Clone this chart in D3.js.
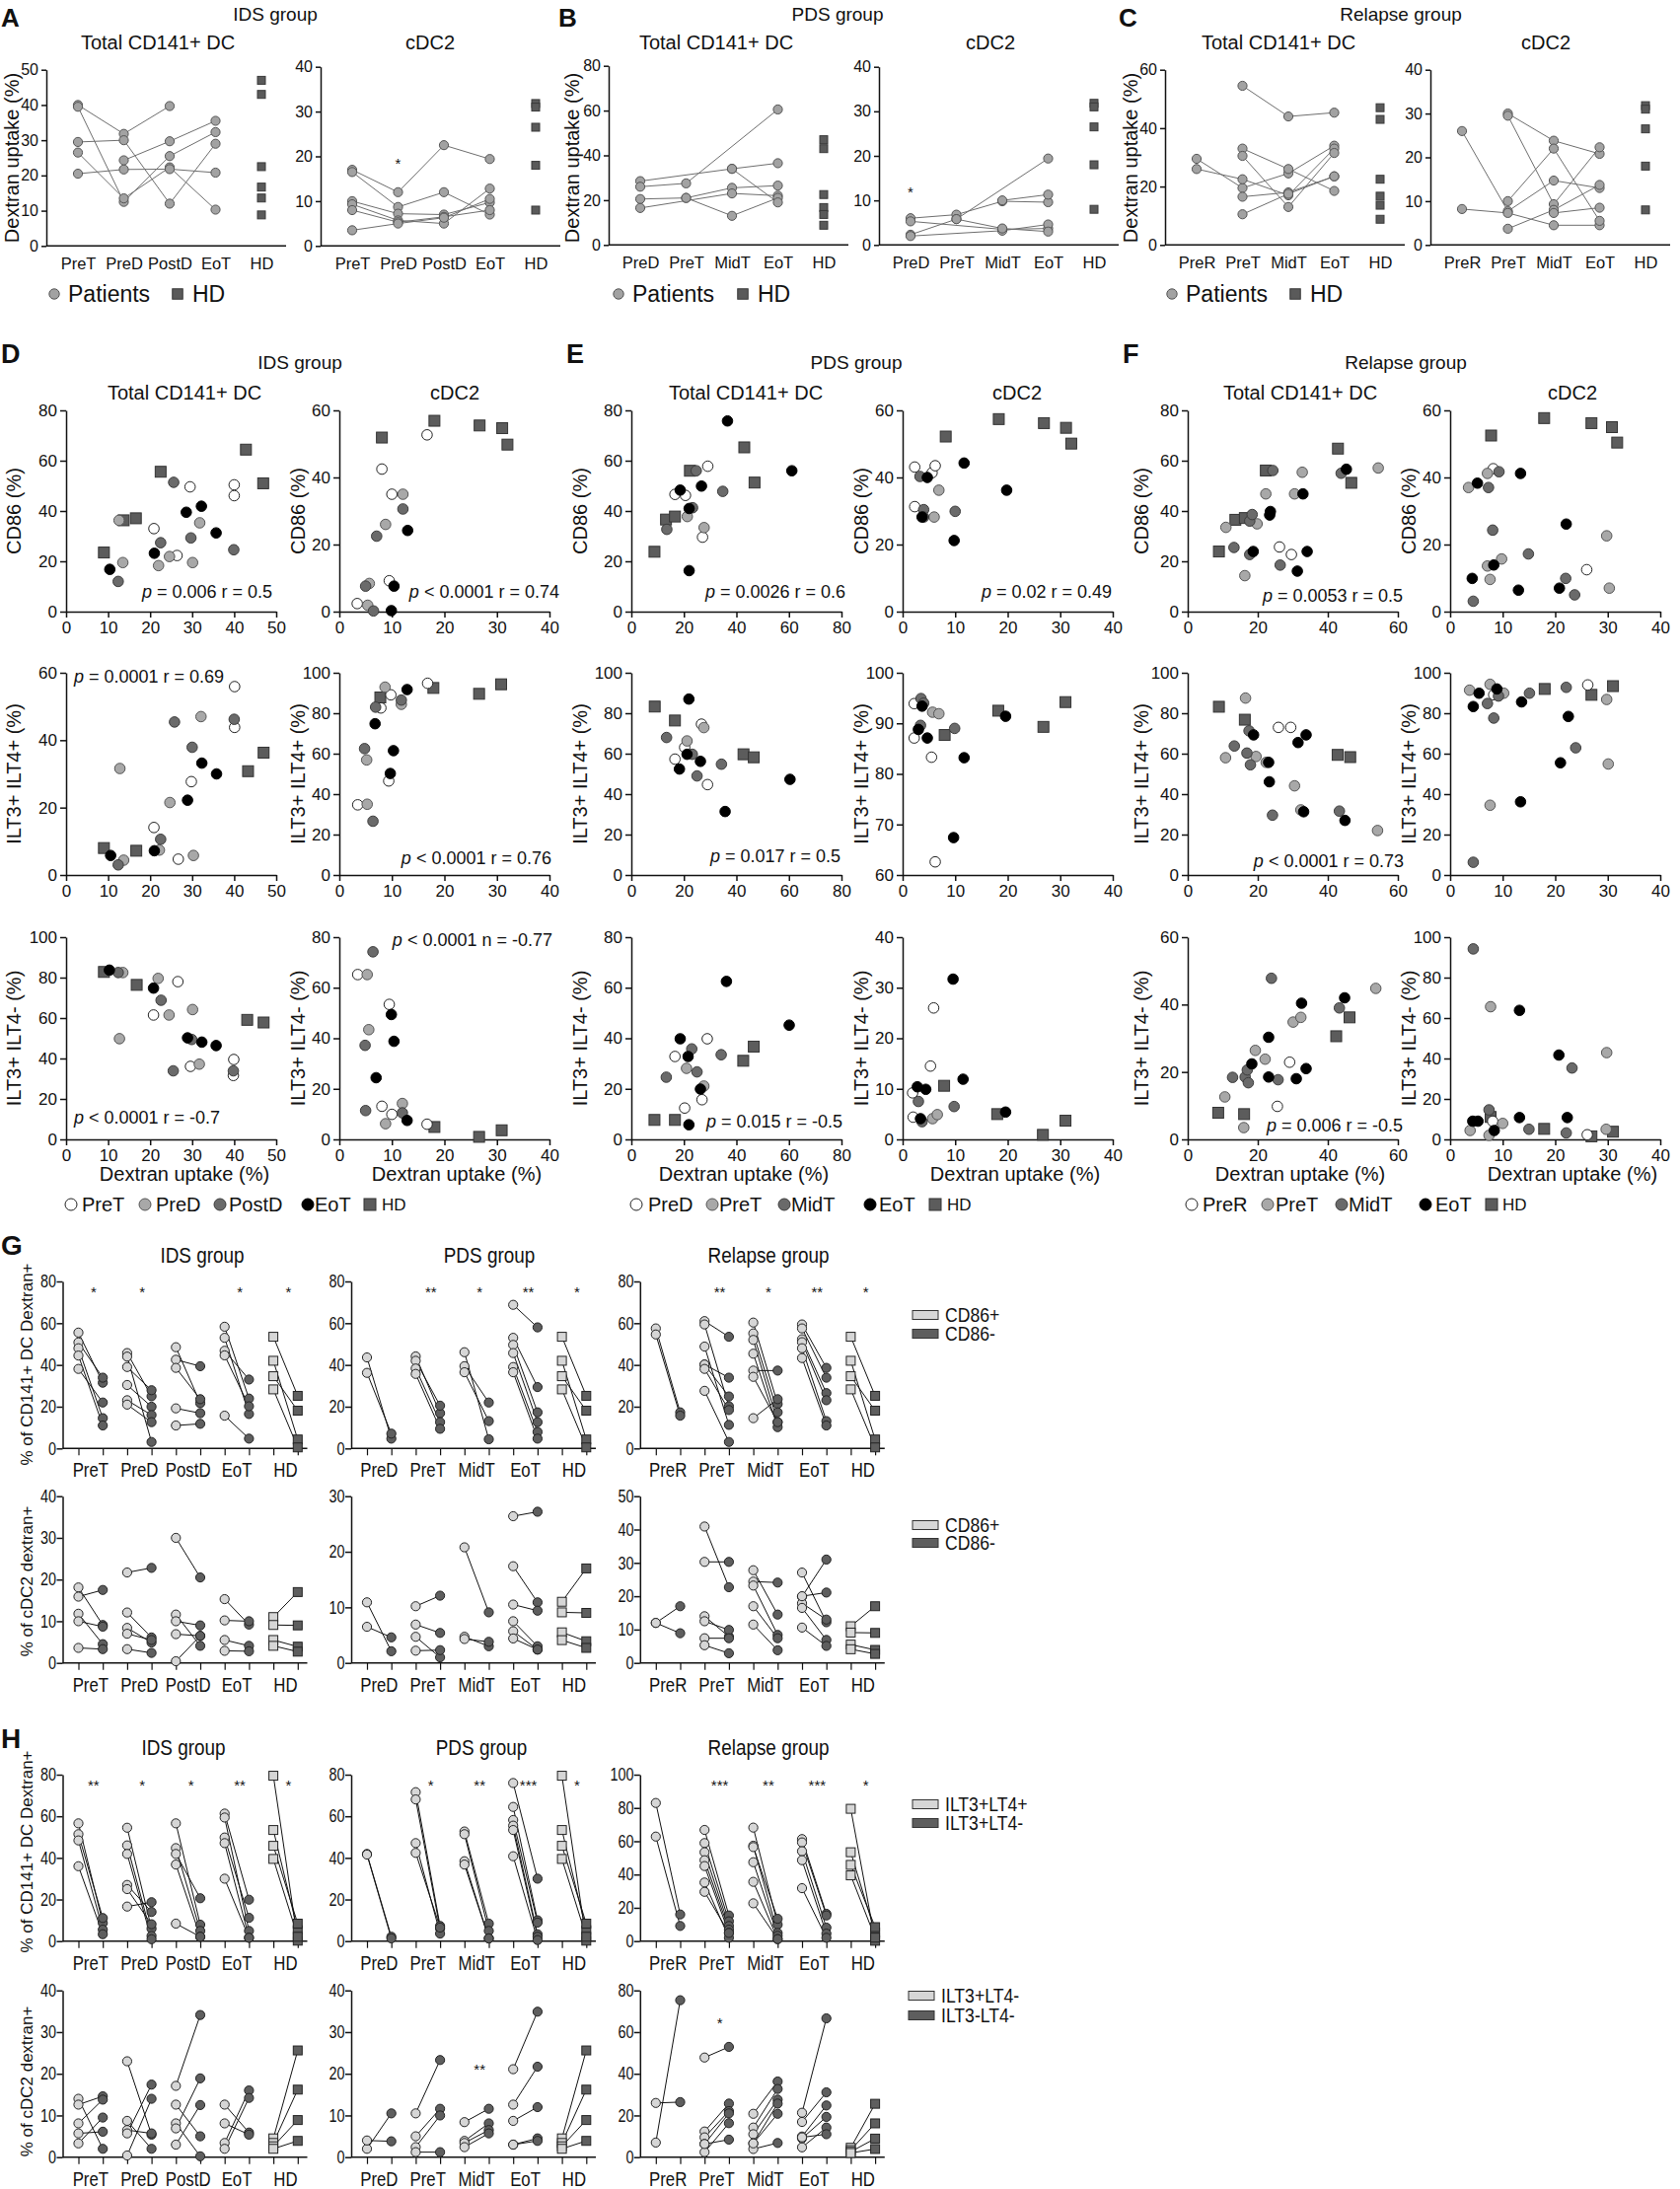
<!DOCTYPE html>
<html>
<head>
<meta charset="utf-8">
<script src="https://cdn.jsdelivr.net/npm/d3@7"></script>
<style>
  body { margin: 0; background: #fff; }
</style>
</head>
<body>
<script>
// ---------- A-C: dextran uptake over time (patients lines + HD) ----------
const catsIDS = ["PreT", "PreD", "PostD", "EoT"];
const catsPDS = ["PreD", "PreT", "MidT", "EoT"];
const catsRel = ["PreR", "PreT", "MidT", "EoT"];

const hdDexTotal = [47, 43, 22.5, 16.7, 13.6, 8.8];
const hdDexCdc2 = [31.8, 31, 26.5, 18, 8];

const aTotal = [[40, 31.8, 39.7, null], [39.5, 12.5, 25.5, 32.3], [29.5, 30, 12, 29], [26.5, 13.5, 22.3, 10.3], [20.5, 21.7, 21.8, 20.8], [null, 24.3, 29.7, 35.5]];
const aCdc2 = [[17, 12, 22.5, 19.4], [16.5, 8.7, 12, 7], [10, 7.2, 7, 9.7], [9.3, 5.7, 5, 12.8], [8, 5.3, 6.5, 8], [3.5, 5, 6.3, 10.5]];
const bTotal = [[28.5, null, 34, 36.5], [26, 27.5, null, 60.5], [20.5, 21, 25.5, 26.5], [16.5, null, 23, 22], [null, 21, 13, 21], [null, null, 34, 19]];
const bCdc2 = [[6, 6.8, 9.8, 9.6], [5.3, null, 3.5, 3.7], [2.3, 5.8, null, 19.4], [2, null, 3.2, 4.6], [null, null, 10, 11.3], [null, 5.8, 3.7, 3]];
const cTotal = [[29.5, 19.5, 24.5, 34], [26, 22.5, 17, 33], [null, 54.5, 44, 45.3], [null, 33, 26, 18.5], [null, 30.5, 13, 31.5], [null, 16.5, 18, 23.5], [null, 10.5, 17.5, 23.5]];
const cCdc2 = [[26, 7.7, 14.7, 13], [8.2, 7.3, 4.5, 4.5], [null, 30, 23.8, 20.8], [null, 29.5, 9.3, 22.3], [null, 10, 22, 5.5], [null, 3.7, 8, 13.7], [null, null, 7.3, 8.5]];

// ---------- D-F: correlations (points per time point, HD last) ----------
const legD = ["PreT", "PreD", "PostD", "EoT", "HD"];
const legE = ["PreD", "PreT", "MidT", "EoT", "HD"];
const legF = ["PreR", "PreT", "MidT", "EoT", "HD"];

const dTotalCd86 = [
  [[20.9, 33], [29.5, 49.6], [26.4, 22.3], [40, 50.4], [40, 46.1]],
  [[12.6, 36.3], [13.5, 19.5], [22, 18.3], [24.6, 21.9], [31.8, 35.3], [30.1, 19.5]],
  [[12.4, 12], [22.5, 27.4], [25.6, 51.4], [29.7, 29.3], [39.9, 24.6]],
  [[10.4, 16.8], [21, 23.2], [28.6, 39.5], [32.2, 41.9], [35.7, 31.3]],
  [[9, 23.5], [13.7, 36.3], [16.6, 37.1], [22.5, 55.6], [42.8, 64.4], [46.9, 51]]
];
const dCdc2Cd86 = [
  [[16.7, 52.7], [8.1, 42.5], [10, 35], [9.5, 9.2], [3.4, 2.4]],
  [[12.1, 35], [8.8, 26], [5.7, 8.4], [5.4, 1.9]],
  [[12.1, 30.6], [7.1, 22.5], [5, 7.6], [6.5, 0.2]],
  [[13, 24.2], [10.4, 7.6], [9.9, 0.3]],
  [[8.1, 51.9], [18.1, 56.9], [26.7, 55.5], [31, 54.7], [32, 49.8]]
];
const dTotalIlt44 = [
  [[40.1, 55.9], [40.1, 43.8], [29.8, 27.7], [20.9, 14.1], [26.7, 4.7]],
  [[12.8, 31.6], [32.1, 47], [24.7, 21.5], [22.2, 7.4], [13.7, 4.4], [30.3, 5.8]],
  [[25.8, 45.4], [40, 46.2], [30, 37.9], [22.5, 10.6], [12.4, 3]],
  [[32.3, 33.2], [35.8, 30], [28.9, 22.2], [21, 7.2], [10.6, 5.8]],
  [[9, 8], [16.7, 7.2], [43.3, 30.8], [47, 36.3]]
];
const dCdc2Ilt44 = [
  [[16.8, 94.8], [9.8, 89.1], [7.9, 82.6], [9.4, 46.5], [3.5, 34.7]],
  [[8.7, 92.9], [11.8, 84.4], [5.2, 56.9], [5.3, 35]],
  [[6.9, 83], [11.8, 86.5], [4.8, 62.5], [6.4, 26.6]],
  [[12.9, 91.7], [6.8, 74.8], [10.3, 61.5], [9.7, 50.2]],
  [[7.8, 87.8], [17.9, 92.5], [26.6, 89.6], [30.8, 94.3]]
];
const dTotalIlt4n = [
  [[26.6, 78], [20.8, 61.5], [29.6, 36.1], [39.9, 39.5], [39.8, 31.6]],
  [[13.5, 82.5], [21.9, 79.6], [24.5, 61.5], [30.1, 64.2], [31.7, 37.2], [12.7, 49.8]],
  [[12.4, 82.5], [22.6, 68.8], [29.9, 49.4], [25.5, 33.9], [39.8, 33.9]],
  [[10.3, 83.7], [20.8, 74.8], [28.9, 50.2], [32.3, 48.1], [35.7, 46.4]],
  [[9, 82.8], [16.8, 76.4], [43.1, 59.1], [47, 57.8]]
];
const dCdc2Ilt4n = [
  [[3.5, 65.2], [9.5, 53.4], [8.1, 13.1], [10, 9.9], [16.7, 6]],
  [[5.3, 65.2], [5.6, 43.4], [12, 14.2], [8.8, 6.2]],
  [[6.4, 74.2], [4.9, 37.2], [5, 11.4], [12, 10.5]],
  [[9.9, 49.4], [10.4, 38.8], [7, 24.4], [12.9, 7.5]],
  [[18.1, 4.9], [26.6, 1], [30.9, 3.6]]
];

const eTotalCd86 = [
  [[16.6, 46.6], [20.6, 46.2], [29.1, 57.8], [27.1, 29.6]],
  [[21.3, 37.8], [27.7, 33.4]],
  [[13.5, 32.7], [23.3, 41.3], [24.7, 56], [34.8, 47.8]],
  [[36.6, 75.8], [61.1, 56], [26.7, 49.9], [18.6, 48.3], [22, 16.3], [22, 41]],
  [[8.8, 23.8], [13.2, 36.6], [16.6, 37.8], [22.3, 56], [43, 65.3], [46.9, 51.3]]
];
const eCdc2Cd86 = [
  [[2.3, 43.1], [2.3, 31.3], [5.6, 41.4], [6.2, 43.5]],
  [[6.9, 36.2], [6, 28.2]],
  [[3.3, 40.3], [4, 30.4], [4, 28.2], [10, 29.9]],
  [[4.7, 40], [11.7, 44.3], [19.8, 36.2], [9.8, 21.2], [3.7, 28.2]],
  [[8.2, 52.2], [18.3, 57.4], [26.9, 56.2], [31.1, 54.8], [32.1, 50.1]]
];
const eTotalIlt44 = [
  [[26.7, 74.6], [16.6, 57.3], [20.3, 63.1], [29, 44.7]],
  [[21.2, 66.3], [27.6, 72.9]],
  [[13.4, 68], [23.2, 59.7], [25, 49], [34.3, 54.8]],
  [[21.9, 87], [35.7, 31.4], [60.4, 47.3], [26.3, 56.2], [18.3, 52.4], [21.2, 59.7]],
  [[8.9, 83.3], [16.6, 76.4], [42.7, 59.7], [46.6, 58.2]]
];
const eCdc2Ilt44 = [
  [[2.2, 93.9], [2.2, 87.1], [5.5, 83.3], [6.2, 62.6]],
  [[5.7, 92.2], [6.9, 91.9]],
  [[3.5, 94.9], [4, 94], [3.4, 89.6], [9.9, 89]],
  [[3.7, 93.4], [3, 88.8], [4.7, 87.1], [11.7, 83.2], [19.6, 91.4], [9.7, 67.4]],
  [[18.2, 92.5], [26.8, 89.3], [31, 94.2], [8, 87.7]]
];
const eTotalIlt4n = [
  [[16.6, 32.8], [28.9, 39.8], [20.3, 12.4], [26.9, 15.7]],
  [[21, 28.1], [27.6, 21.1]],
  [[13.3, 24.6], [23, 35.8], [25, 26.7], [34.2, 33.5]],
  [[36.2, 62.5], [60.1, 45.2], [18.6, 39.8], [21.6, 32.8], [26.3, 19.9], [21.9, 5.8]],
  [[8.8, 7.7], [16.6, 7.7], [42.6, 31.1], [46.6, 36.7]]
];
const eCdc2Ilt4n = [
  [[5.9, 26], [5.3, 14.5], [1.9, 9.2], [2, 4.4]],
  [[5.7, 4.1], [6.6, 4.9]],
  [[3, 7.5], [3.7, 3.5], [9.8, 6.5]],
  [[9.6, 31.7], [11.5, 11.9], [19.6, 5.4], [2.8, 10.4], [4.4, 9.9], [3.4, 4.1]],
  [[7.9, 10.6], [18, 5], [26.7, 0.9], [31, 3.7]]
];

const fTotalCd86 = [
  [[26.2, 25.7], [29.6, 22.7]],
  [[10.9, 33.5], [16.3, 14.3], [19.8, 34.9], [22.3, 46.8], [30.5, 46.8], [32.7, 55.4], [54.4, 57.1]],
  [[13.2, 25.5], [17.7, 36], [18.4, 38.6], [17.7, 22.7], [24.3, 56.1], [26.4, 18.5], [43.8, 55]],
  [[18.7, 23.9], [23.6, 39.8], [23.4, 38.4], [32.9, 46.8], [34.1, 23.9], [31.3, 16.1], [45.3, 56.6]],
  [[8.9, 23.9], [13.6, 36.5], [16.3, 37.2], [22.3, 56.1], [42.9, 64.8], [46.7, 51.2]]
];
const fCdc2Cd86 = [
  [[8.2, 42.6], [26, 12.5]],
  [[3.5, 37], [7.1, 41.2], [7.1, 13.6], [7.6, 9.6], [9.8, 15.7], [29.8, 22.6], [30.3, 7]],
  [[7.3, 37], [9.3, 41.7], [8.1, 24.3], [14.9, 17.2], [22, 9.9], [23.7, 5], [4.4, 3.1]],
  [[5.2, 38.3], [13.4, 41.2], [8.3, 13.9], [4.2, 9.9], [13, 6.4], [22.1, 26.1], [20.8, 7]],
  [[7.8, 52.5], [17.9, 57.7], [26.9, 56.2], [30.8, 55], [31.8, 50.4]]
];
const fTotalIlt44 = [
  [[25.9, 73], [29.4, 73]],
  [[16.5, 87.5], [10.8, 58], [19.5, 58.6], [22.4, 55.7], [30.5, 44.1], [32.3, 32.2], [54.2, 22]],
  [[13.3, 63.8], [17.5, 71.3], [17.9, 54.5], [16.9, 60.3], [24.2, 29.6], [43.3, 31.6]],
  [[18.8, 69.3], [23.1, 55.7], [23.3, 46.1], [31.5, 65.5], [33.8, 69.3], [33.1, 31.3], [44.9, 27]],
  [[8.9, 83.2], [16.3, 76.8], [42.8, 59.4], [46.4, 58.3]]
];
const fCdc2Ilt44 = [
  [[8.3, 89.1], [26.2, 94]],
  [[3.7, 91.4], [7.6, 94.3], [10.2, 89.9], [7.6, 34.5], [30.1, 54.9], [29.8, 86.8]],
  [[7.1, 84.8], [8.3, 77.6], [9.2, 88.5], [15.1, 89.9], [22.1, 92.8], [23.9, 62.9], [4.4, 6.3]],
  [[5.5, 89.9], [4.4, 83.3], [8.9, 92], [13.6, 85.6], [22.5, 78.4], [21, 55.5], [13.4, 36.2]],
  [[18, 92], [26.9, 89.1], [31, 93.4]]
];
const fTotalIlt4n = [
  [[29.1, 22.9], [25.6, 9.8]],
  [[10.6, 12.6], [16, 3.5], [19.3, 26.4], [22.1, 23.8], [30.1, 34.8], [32.3, 36.2], [53.7, 44.8]],
  [[12.8, 18.4], [16.4, 18.5], [17, 20.6], [17.3, 16.8], [23.9, 47.8], [25.8, 17.7], [43.3, 39]],
  [[18.3, 22.4], [23.1, 30.3], [23.1, 18.5], [32.5, 40.4], [33.8, 21], [31, 18], [44.8, 42]],
  [[8.7, 7.9], [16.1, 7.5], [42.4, 30.6], [46.2, 36.2]]
];
const fCdc2Ilt4n = [
  [[8.1, 9], [26.1, 2.3]],
  [[7.7, 65.6], [29.8, 42.9], [3.8, 4.4], [10, 7.9], [29.7, 5], [7.4, 2]],
  [[4.4, 94.2], [23.2, 35.3], [7.4, 14.6], [15, 5], [22.1, 3.2]],
  [[13.2, 63.8], [20.7, 41.7], [22.3, 10.8], [13.2, 10.8], [4.3, 9], [5.3, 9], [8.4, 4.4]],
  [[7.7, 11.1], [17.9, 5.2], [26.9, 1.5], [31, 3.8]]
];

// ---------- G-H: paired values [positive, negative] per time point ----------
const gHdCd86 = [[53.5, 25.2], [42, 4.3], [34.6, 18.1], [28.3, 0.5]];
const gIdsCd86 = [
  [[55.5, 31.5], [50.8, 33.9], [48, 14.5], [44.5, 11], [38.1, 22]],
  [[45.7, 25], [44, 3.1], [39, 27.9], [30.4, 20], [23.1, 16], [21, 12.6]],
  [[48.5, 21.7], [42.5, 39.4], [38.6, 23.6], [19.2, 16.9], [11, 11.8]],
  [[58.3, 23.9], [53, 16.5], [46.8, 33], [44.6, 20.2], [15.7, 4.7]]
];
const gPdsCd86 = [
  [[43.6, 4.7], [36.2, 7.1]],
  [[44.1, 16.9], [42, 20.5], [38.3, 12.6], [35.7, 9.4]],
  [[46.1, 4.4], [39.4, 22], [36.5, 13.1]],
  [[68.8, 58], [53, 29.4], [49.6, 17.3], [45.7, 12.6], [39, 7.9], [36.5, 4.7]]
];
const gRelCd86 = [
  [[57.5, 17.3], [54.6, 15.7]],
  [[61, 53.5], [59.4, 20.2], [48.8, 11.3], [40.2, 33.9], [40.2, 24.9], [38.1, 18.4], [27.6, 3.1]],
  [[60.3, 21.3], [55.1, 17.3], [52, 12.6], [45.4, 10.2], [37.3, 37.3], [34.3, 12.6], [14.5, 23.6]],
  [[59.4, 38.6], [57.5, 33.9], [52.3, 26.5], [50.9, 23.1], [48, 13.1], [43.3, 11]]
];
const gHdCdc2 = [[11, 17], [9.1, 9], [5.5, 3.9], [4.1, 2.7]];
const gIdsCdc2 = [
  [[18.1, 9.1], [15.9, 17.5], [11.8, 4.5], [10, 8.7], [3.6, 3.3]],
  [[21.7, 22.8], [12.1, 6.1], [8.4, 4.9], [7, 5.5], [3.3, 2.4]],
  [[30, 20.5], [11.6, 4.1], [10, 9], [6.9, 6.5], [0.4, 6.5]],
  [[15.3, 9.2], [10.2, 10], [5.5, 4.1], [2.9, 2.8]]
];
const gPdsCdc2 = [
  [[10.9, 2.1], [6.5, 4.6]],
  [[10.2, 12.1], [6.9, 5.4], [4.7, 1], [2.2, 2.3]],
  [[20.8, 9.1], [4.7, 3], [4.3, 3.8]],
  [[26.4, 27.2], [17.4, 10.9], [10.5, 9.4], [7.5, 3], [5.7, 2.4], [4.4, 2.4]]
];
const gRelCdc2 = [
  [[12, 17], [12, 8.9]],
  [[40.9, 22.7], [30.3, 30.3], [14, 7.9], [12.5, 9.9], [7.4, 7.4], [5.3, 2.9]],
  [[27.8, 14.5], [24.4, 24.1], [23.2, 8.4], [17, 7.4], [11.5, 3.8]],
  [[27.1, 12.2], [19.9, 31], [17.9, 13], [16.5, 6.9], [10.6, 5.1], [20, 21.1]]
];
const hHdIlt44 = [[79.5, 0.2], [53.4, 5.2], [45.8, 8.4], [39.5, 2.1]];
const hIdsIlt44 = [
  [[56.6, 8.7], [51.4, 11.1], [48.4, 5.5], [36, 3.3]],
  [[54.5, 6], [46, 2.5], [41.9, 0.9], [27, 14], [25, 8.1], [16.6, 18.7]],
  [[56.6, 7.9], [44.7, 4.9], [41.9, 20.6], [36.8, 2.1], [8.4, 2.1]],
  [[61.3, 19.9], [59.4, 4.9], [49.8, 11.2], [47.1, 1.6], [30, 1.6]]
];
const hPdsIlt44 = [
  [[41.9, 2.1], [41.6, 1.3]],
  [[71.6, 7.3], [68.1, 6], [47.1, 3.6], [42.4, 6.5]],
  [[52.7, 8.4], [51.4, 4.9], [38.4, 1.3], [36.8, 1.3]],
  [[76, 30], [64.5, 10], [58.2, 8.9], [55.5, 3.3], [53.4, 2.1], [40.8, 0.5]]
];
const hRelIlt44 = [
  [[83, 16], [62.8, 9.1]],
  [[66.8, 15.4], [58.9, 11.9], [53.4, 9.1], [48.6, 6.9], [45.1, 4.9], [35.2, 2], [29.6, 4.9]],
  [[68.2, 9.9], [57.3, 4.9], [56.5, 13.4], [47.4, 3.2], [35.6, 1.2], [22.7, 1.2]],
  [[61.3, 16.4], [59.3, 15.4], [54, 8.1], [48.6, 4.5], [31.8, 2]]
];
const hHdIlt4n = [[4.5, 25.6], [3.4, 16.2], [2.6, 8.9], [2, 3.9]];
const hIdsIlt4n = [
  [[14, 2], [12.6, 14.6], [8.1, 13.8], [5.7, 6.1], [3.3, 9.5]],
  [[23, 5.4], [8.7, 2], [6.5, 5.7], [5.7, 17.4], [0.4, 14]],
  [[17.1, 34.1], [12.6, 5], [8.1, 0.2], [6.9, 18.9], [3, 12.5]],
  [[12.6, 5.9], [8.1, 5.4], [3.4, 16], [2, 14.2]]
];
const hPdsIlt4n = [
  [[2, 10.5], [4, 3.8]],
  [[10.5, 23.3], [5, 11.6], [2.4, 10], [1.2, 1.2]],
  [[8.4, 11.6], [3.9, 8.1], [3.4, 6.5], [2.4, 5.7]],
  [[21.1, 34.9], [12.6, 21.7], [8.7, 12], [3, 4.5], [3, 3.9]]
];
const hRelIlt4n = [
  [[7, 75.3], [26, 26.4]],
  [[47.8, 52.9], [12.3, 25.7], [9.5, 22.1], [6.3, 21], [2.4, 16.3], [6.3, 8.4]],
  [[20.8, 36.3], [14.2, 32.7], [11, 27.6], [6.6, 25.7], [3.9, 6.8], [6.6, 20.8]],
  [[21.3, 66.6], [16.9, 31.1], [9.9, 24.8], [9, 19.3], [4.7, 14.2], [9.5, 11]]
];

// significance marks
const gStarsIds = [["PreT", "*"], ["PreD", "*"], ["EoT", "*"], ["HD", "*"]];
const gStarsPds = [["PreT", "**"], ["MidT", "*"], ["EoT", "**"], ["HD", "*"]];
const gStarsRel = [["PreT", "**"], ["MidT", "*"], ["EoT", "**"], ["HD", "*"]];
const hStarsIds = [["PreT", "**"], ["PreD", "*"], ["PostD", "*"], ["EoT", "**"], ["HD", "*"]];
const hStarsPds = [["PreT", "*"], ["MidT", "**"], ["EoT", "***"], ["HD", "*"]];
const hStarsRel = [["PreT", "***"], ["MidT", "**"], ["EoT", "***"], ["HD", "*"]];

// ================= drawing =================
const REG = '"Liberation Sans", Arial, Helvetica, sans-serif';

const svg = d3.select("body").append("svg")
  .attr("width", 1703).attr("height", 2219)
  .style("background", "#fff");

// sx < 1 squeezes the text horizontally (the figure uses a condensed face here and there)
function txt(x, y, s, size, o) {
  o = o || {};
  const t = svg.append("text")
    .attr("font-size", size)
    .attr("font-family", REG)
    .attr("font-weight", o.bold ? "bold" : null)
    .attr("text-anchor", o.anchor || "middle")
    .attr("dominant-baseline", "central")
    .attr("fill", "#111")
    .text(s);
  let tr = "translate(" + x + "," + y + ")";
  if (o.rot) tr += " rotate(-90)";
  if (o.sx) tr += " scale(" + o.sx + ",1)";
  t.attr("transform", tr);
  return t;
}

function styleAxis(a, size) {
  a.attr("font-size", size).attr("font-family", REG);
  a.selectAll(".domain, .tick line").attr("stroke", "#111").attr("stroke-width", 1.5);
  a.selectAll("text").attr("fill", "#111");
}

function square(g, x, y, s, fill, stroke) {
  g.append("rect").attr("x", x - s / 2).attr("y", y - s / 2)
    .attr("width", s).attr("height", s)
    .attr("fill", fill).attr("stroke", stroke).attr("stroke-width", 1);
}

// ---- A-C panels ----
function lineDot(c) {
  const g = svg.append("g");
  const y = d3.scaleLinear().domain([0, c.max]).range([c.bottom, c.top]);
  const x = d3.scalePoint().domain(c.cats.concat(["HD"])).range([c.ax + 32, c.ax + 218]);
  const ya = g.append("g").attr("transform", "translate(" + c.ax + ",0)")
    .call(d3.axisLeft(y).tickValues(d3.range(0, c.max + 1, c.step)).tickSize(5).tickSizeOuter(0).tickPadding(3));
  styleAxis(ya, 16);
  const xa = g.append("g").attr("transform", "translate(0," + c.bottom + ")")
    .call(d3.axisBottom(x).tickSize(0).tickPadding(12));
  xa.select(".domain").remove();
  styleAxis(xa, 16.5);
  g.append("line").attr("x1", c.ax).attr("x2", c.ax + 243)
    .attr("y1", c.bottom).attr("y2", c.bottom).attr("stroke", "#111").attr("stroke-width", 1.5);

  const line = d3.line().x(p => x(p[0])).y(p => y(p[1]));
  c.series.forEach(s => {
    const pts = s.map((v, i) => [c.cats[i], v]).filter(p => p[1] != null);
    g.append("path").attr("d", line(pts)).attr("fill", "none")
      .attr("stroke", "#6e6e6e").attr("stroke-width", 1);
  });
  c.series.forEach(s => {
    s.forEach((v, i) => {
      if (v == null) return;
      g.append("circle").attr("cx", x(c.cats[i])).attr("cy", y(v)).attr("r", 4.6)
        .attr("fill", "#a2a2a2").attr("stroke", "#555").attr("stroke-width", 1);
    });
  });
  c.hd.forEach(v => square(g, x("HD"), y(v), 8, "#5a5a5a", "#3a3a3a"));
  if (c.star) txt(x(c.star[0]), y(c.star[1]), "*", 15);
}

lineDot({ ax: 47, top: 70.7, bottom: 249.3, max: 50, step: 10, cats: catsIDS, series: aTotal, hd: hdDexTotal });
lineDot({ ax: 325, top: 67.7, bottom: 249.3, max: 40, step: 10, cats: catsIDS, series: aCdc2, hd: hdDexCdc2, star: ["PreD", 18.4] });
lineDot({ ax: 617, top: 66.7, bottom: 248.3, max: 80, step: 20, cats: catsPDS, series: bTotal, hd: hdDexTotal });
lineDot({ ax: 891, top: 67.7, bottom: 248.3, max: 40, step: 10, cats: catsPDS, series: bCdc2, hd: hdDexCdc2, star: ["PreD", 12] });
lineDot({ ax: 1181, top: 70.7, bottom: 248.3, max: 60, step: 20, cats: catsRel, series: cTotal, hd: hdDexTotal });
lineDot({ ax: 1450, top: 70.7, bottom: 248.3, max: 40, step: 10, cats: catsRel, series: cCdc2, hd: hdDexCdc2 });

txt(1, 18, "A", 26, { bold: true, anchor: "start" });
txt(566, 18, "B", 26, { bold: true, anchor: "start" });
txt(1134, 18, "C", 26, { bold: true, anchor: "start" });
txt(279, 14, "IDS group", 19);
txt(849, 14, "PDS group", 19);
txt(1420, 14, "Relapse group", 19);
[[160, "Total CD141+ DC"], [436, "cDC2"], [726, "Total CD141+ DC"], [1004, "cDC2"], [1296, "Total CD141+ DC"], [1567, "cDC2"]]
  .forEach(t => txt(t[0], 43, t[1], 20));
[12, 580, 1146].forEach(xx => txt(xx, 160, "Dextran uptake (%)", 20, { rot: true }));
[[55, 180], [627, 753], [1188, 1313]].forEach(p => {
  svg.append("circle").attr("cx", p[0]).attr("cy", 298).attr("r", 5.2)
    .attr("fill", "#a2a2a2").attr("stroke", "#555");
  txt(p[0] + 14, 298, "Patients", 23, { anchor: "start" });
  square(svg, p[1], 298, 10.5, "#5a5a5a", "#3a3a3a");
  txt(p[1] + 15, 298, "HD", 23, { anchor: "start" });
});

// ---- D-F panels ----
const ptFill = ["#ffffff", "#a8a8a8", "#6a6a6a", "#000000", "#5c5c5c"];
const ptStroke = ["#222", "#555", "#3c3c3c", "#000", "#333"];
const rowsY = [[620, 416], [887, 682], [1155, 950]];

function scatter(c) {
  const g = svg.append("g");
  const x = d3.scaleLinear().domain(c.xd).range([c.left, c.left + 213]);
  const y = d3.scaleLinear().domain(c.yd).range([c.bottom, c.top]);
  const xa = g.append("g").attr("transform", "translate(0," + c.bottom + ")")
    .call(d3.axisBottom(x).tickValues(d3.range(c.xd[0], c.xd[1] + 0.01, c.xs)).tickSize(6).tickSizeOuter(0).tickPadding(4));
  styleAxis(xa, 17);
  const ya = g.append("g").attr("transform", "translate(" + c.left + ",0)")
    .call(d3.axisLeft(y).tickValues(d3.range(c.yd[0], c.yd[1] + 0.01, c.ys)).tickSize(6).tickSizeOuter(0).tickPadding(3));
  styleAxis(ya, 17);
  c.data[4].forEach(p => square(g, x(p[0]), y(p[1]), 11, ptFill[4], ptStroke[4]));
  for (let k = 0; k < 4; k++) {
    c.data[k].forEach(p => {
      g.append("circle").attr("cx", x(p[0])).attr("cy", y(p[1])).attr("r", 5.3)
        .attr("fill", ptFill[k]).attr("stroke", ptStroke[k]).attr("stroke-width", 1);
    });
  }
  txt(c.left - c.labOff, (c.top + c.bottom) / 2, c.ylab, 20, { rot: true });
  if (c.stat) {
    const t = svg.append("text").attr("x", c.stat[1]).attr("y", c.stat[2])
      .attr("font-size", 18).attr("font-family", REG).attr("fill", "#111")
      .attr("dominant-baseline", "central").attr("text-anchor", c.stat[3]);
    t.append("tspan").attr("font-style", "italic").text("p");
    t.append("tspan").text(" " + c.stat[0]);
  }
  if (c.xlab) txt(c.xlab, 1190, "Dextran uptake (%)", 20);
}

function scatterGroup(o) {
  const ylabs = ["CD86 (%)", "ILT3+ ILT4+ (%)", "ILT3+ ILT4- (%)"];
  for (let r = 0; r < 3; r++) {
    for (let col = 0; col < 2; col++) {
      scatter({
        left: o.lefts[col], bottom: rowsY[r][0], top: rowsY[r][1],
        xd: o.xd[col], xs: o.xs[col], yd: o.yd[r][col], ys: o.ys[r][col],
        data: o.data[r][col], ylab: ylabs[r], labOff: o.labOff[col],
        stat: o.stats[r][col], xlab: r === 2 ? o.xlabX[col] : null
      });
    }
  }
  txt(o.letter[1], 359, o.letter[0], 27, { bold: true, anchor: "start" });
  txt(o.title[1], 367, o.title[0], 19);
  txt(o.sub[0], 398, "Total CD141+ DC", 20);
  txt(o.sub[1], 398, "cDC2", 20);
  o.legend.forEach((it, k) => {
    if (k === 4) square(svg, it[1], 1221, 12, ptFill[4], ptStroke[4]);
    else svg.append("circle").attr("cx", it[1]).attr("cy", 1221).attr("r", 6)
      .attr("fill", ptFill[k]).attr("stroke", ptStroke[k]);
    txt(it[2], 1221, it[0], k === 4 ? 17 : 20, { anchor: "start" });
  });
}

scatterGroup({
  letter: ["D", 1], title: ["IDS group", 304], sub: [187, 461],
  lefts: [67, 344], labOff: [53, 42], xlabX: [187, 463],
  xd: [[0, 50], [0, 40]], xs: [10, 10],
  yd: [[[0, 80], [0, 60]], [[0, 60], [0, 100]], [[0, 100], [0, 80]]],
  ys: [[20, 20], [20, 20], [20, 20]],
  data: [[dTotalCd86, dCdc2Cd86], [dTotalIlt44, dCdc2Ilt44], [dTotalIlt4n, dCdc2Ilt4n]],
  stats: [
    [["= 0.006 r = 0.5", 276, 600, "end"], ["< 0.0001 r = 0.74", 567, 600, "end"]],
    [["= 0.0001 r = 0.69", 75, 686, "start"], ["< 0.0001 r = 0.76", 559, 870, "end"]],
    [["< 0.0001 r = -0.7", 75, 1133, "start"], ["< 0.0001 n = -0.77", 560, 953, "end"]]
  ],
  legend: [[legD[0], 72, 83], [legD[1], 147, 158], [legD[2], 223, 232], [legD[3], 312, 319], [legD[4], 375, 387]]
});
scatterGroup({
  letter: ["E", 574], title: ["PDS group", 868], sub: [756, 1031],
  lefts: [640, 915], labOff: [52, 42], xlabX: [754, 1029],
  xd: [[0, 80], [0, 40]], xs: [20, 10],
  yd: [[[0, 80], [0, 60]], [[0, 100], [60, 100]], [[0, 80], [0, 40]]],
  ys: [[20, 20], [20, 10], [20, 10]],
  data: [[eTotalCd86, eCdc2Cd86], [eTotalIlt44, eCdc2Ilt44], [eTotalIlt4n, eCdc2Ilt4n]],
  stats: [
    [["= 0.0026 r = 0.6", 857, 600, "end"], ["= 0.02 r = 0.49", 1127, 600, "end"]],
    [["= 0.017 r = 0.5", 852, 868, "end"], null],
    [["= 0.015 r = -0.5", 854, 1137, "end"], null]
  ],
  legend: [[legE[0], 645, 657], [legE[1], 722, 729], [legE[2], 795, 802], [legE[3], 882, 891], [legE[4], 948, 960]]
});
scatterGroup({
  letter: ["F", 1138], title: ["Relapse group", 1425], sub: [1318, 1594],
  lefts: [1204, 1470], labOff: [47, 42], xlabX: [1318, 1594],
  xd: [[0, 60], [0, 40]], xs: [20, 10],
  yd: [[[0, 80], [0, 60]], [[0, 100], [0, 100]], [[0, 60], [0, 100]]],
  ys: [[20, 20], [20, 20], [20, 20]],
  data: [[fTotalCd86, fCdc2Cd86], [fTotalIlt44, fCdc2Ilt44], [fTotalIlt4n, fCdc2Ilt4n]],
  stats: [
    [["= 0.0053 r = 0.5", 1422, 604, "end"], null],
    [["< 0.0001 r = 0.73", 1423, 873, "end"], null],
    [["= 0.006 r = -0.5", 1422, 1141, "end"], null]
  ],
  legend: [[legF[0], 1208, 1219], [legF[1], 1285, 1293], [legF[2], 1360, 1367], [legF[3], 1445, 1455], [legF[4], 1512, 1523]]
});

// ---- G-H panels ----
const posFill = "#d6d6d6", negFill = "#5e5e5e";

function paired(c) {
  const g = svg.append("g");
  const cats = c.cats.concat(["HD"]);
  const keys = [];
  cats.forEach(k => { keys.push(k + "+"); keys.push(k + "-"); });
  const x = d3.scalePoint().domain(keys).range([c.first, c.first + 9 * 24.7]);
  const ax = c.first - 16;
  const y = d3.scaleLinear().domain([0, c.max]).range([c.bottom, c.top]);
  const ya = g.append("g").attr("transform", "translate(" + ax + ",0)")
    .call(d3.axisLeft(y).tickValues(d3.range(0, c.max + 0.01, c.step)).tickSize(6).tickSizeOuter(0).tickPadding(2));
  styleAxis(ya, 18);
  ya.selectAll(".tick text").attr("transform", "scale(0.8,1)");
  const xa = g.append("g").attr("transform", "translate(0," + c.bottom + ")")
    .call(d3.axisBottom(x).tickSize(7).tickFormat(""));
  xa.select(".domain").remove();
  styleAxis(xa, 18);
  xa.selectAll(".tick line").attr("stroke-width", 1.2);
  g.append("line").attr("x1", ax).attr("x2", ax + 248)
    .attr("y1", c.bottom).attr("y2", c.bottom).attr("stroke", "#111").attr("stroke-width", 1.5);
  cats.forEach(k => txt((x(k + "+") + x(k + "-")) / 2, c.bottom + 22, k, 20, { sx: 0.84 }));

  const all = c.data.concat([c.hd]);
  all.forEach((pairs, i) => {
    const k = cats[i];
    pairs.forEach(p => {
      g.append("line").attr("x1", x(k + "+")).attr("y1", y(p[0]))
        .attr("x2", x(k + "-")).attr("y2", y(p[1]))
        .attr("stroke", "#111").attr("stroke-width", 1);
    });
  });
  all.forEach((pairs, i) => {
    const k = cats[i];
    pairs.forEach(p => {
      if (k === "HD") {
        square(g, x(k + "+"), y(p[0]), 9, posFill, "#222");
        square(g, x(k + "-"), y(p[1]), 9, negFill, "#222");
      } else {
        g.append("circle").attr("cx", x(k + "+")).attr("cy", y(p[0])).attr("r", 4.6)
          .attr("fill", posFill).attr("stroke", "#222");
        g.append("circle").attr("cx", x(k + "-")).attr("cy", y(p[1])).attr("r", 4.6)
          .attr("fill", negFill).attr("stroke", "#222");
      }
    });
  });
  (c.stars || []).forEach(s => {
    const cx = (x(s[0] + "+") + x(s[0] + "-")) / 2 + 3;
    const cy = s.length > 2 ? y(s[2]) : c.top + 10;
    txt(cx, cy, s[1], 15);
  });
}

const firsts = [79.5, 372, 664.8];
const rowsGH = [[1468.3, 1299], [1685.7, 1516.7], [1967.7, 1799], [2186.7, 2017.7]];

paired({ first: firsts[0], bottom: rowsGH[0][0], top: rowsGH[0][1], max: 80, step: 20, cats: catsIDS, data: gIdsCd86, hd: gHdCd86, stars: gStarsIds });
paired({ first: firsts[1], bottom: rowsGH[0][0], top: rowsGH[0][1], max: 80, step: 20, cats: catsPDS, data: gPdsCd86, hd: gHdCd86, stars: gStarsPds });
paired({ first: firsts[2], bottom: rowsGH[0][0], top: rowsGH[0][1], max: 80, step: 20, cats: catsRel, data: gRelCd86, hd: gHdCd86, stars: gStarsRel });
paired({ first: firsts[0], bottom: rowsGH[1][0], top: rowsGH[1][1], max: 40, step: 10, cats: catsIDS, data: gIdsCdc2, hd: gHdCdc2 });
paired({ first: firsts[1], bottom: rowsGH[1][0], top: rowsGH[1][1], max: 30, step: 10, cats: catsPDS, data: gPdsCdc2, hd: gHdCdc2 });
paired({ first: firsts[2], bottom: rowsGH[1][0], top: rowsGH[1][1], max: 50, step: 10, cats: catsRel, data: gRelCdc2, hd: gHdCdc2 });
paired({ first: firsts[0], bottom: rowsGH[2][0], top: rowsGH[2][1], max: 80, step: 20, cats: catsIDS, data: hIdsIlt44, hd: hHdIlt44, stars: hStarsIds });
paired({ first: firsts[1], bottom: rowsGH[2][0], top: rowsGH[2][1], max: 80, step: 20, cats: catsPDS, data: hPdsIlt44, hd: hHdIlt44, stars: hStarsPds });
paired({ first: firsts[2], bottom: rowsGH[2][0], top: rowsGH[2][1], max: 100, step: 20, cats: catsRel, data: hRelIlt44, hd: hHdIlt44, stars: hStarsRel });
paired({ first: firsts[0], bottom: rowsGH[3][0], top: rowsGH[3][1], max: 40, step: 10, cats: catsIDS, data: hIdsIlt4n, hd: hHdIlt4n });
paired({ first: firsts[1], bottom: rowsGH[3][0], top: rowsGH[3][1], max: 40, step: 10, cats: catsPDS, data: hPdsIlt4n, hd: hHdIlt4n, stars: [["MidT", "**", 21]] });
paired({ first: firsts[2], bottom: rowsGH[3][0], top: rowsGH[3][1], max: 80, step: 20, cats: catsRel, data: hRelIlt4n, hd: hHdIlt4n, stars: [["PreT", "*", 64.5]] });

txt(1, 1262, "G", 28, { bold: true, anchor: "start" });
txt(1, 1762, "H", 28, { bold: true, anchor: "start" });
[[205, "IDS group"], [496, "PDS group"], [779, "Relapse group"]].forEach(t => txt(t[0], 1272, t[1], 22, { sx: 0.86 }));
[[186, "IDS group"], [488, "PDS group"], [779, "Relapse group"]].forEach(t => txt(t[0], 1771, t[1], 22, { sx: 0.86 }));
txt(27, 1383, "% of CD141+ DC Dextran+", 17, { rot: true });
txt(27, 1603, "% of cDC2 dextran+", 17, { rot: true });
txt(27, 1877, "% of CD141+ DC Dextran+", 17, { rot: true });
txt(27, 2110, "% of cDC2 dextran+", 17, { rot: true });

function ghLegend(x0, y1, y2, labels) {
  [[y1, posFill, labels[0]], [y2, negFill, labels[1]]].forEach(r => {
    svg.append("rect").attr("x", x0).attr("y", r[0] - 4.5).attr("width", 26).attr("height", 9)
      .attr("fill", r[1]).attr("stroke", "#333").attr("stroke-width", 1);
    txt(x0 + 33, r[0], r[2], 20, { anchor: "start", sx: 0.88 });
  });
}
ghLegend(925, 1333, 1352, ["CD86+", "CD86-"]);
ghLegend(925, 1546, 1564, ["CD86+", "CD86-"]);
ghLegend(925, 1829, 1848, ["ILT3+LT4+", "ILT3+LT4-"]);
ghLegend(921, 2023, 2043, ["ILT3+LT4-", "ILT3-LT4-"]);
</script>
</body>
</html>
